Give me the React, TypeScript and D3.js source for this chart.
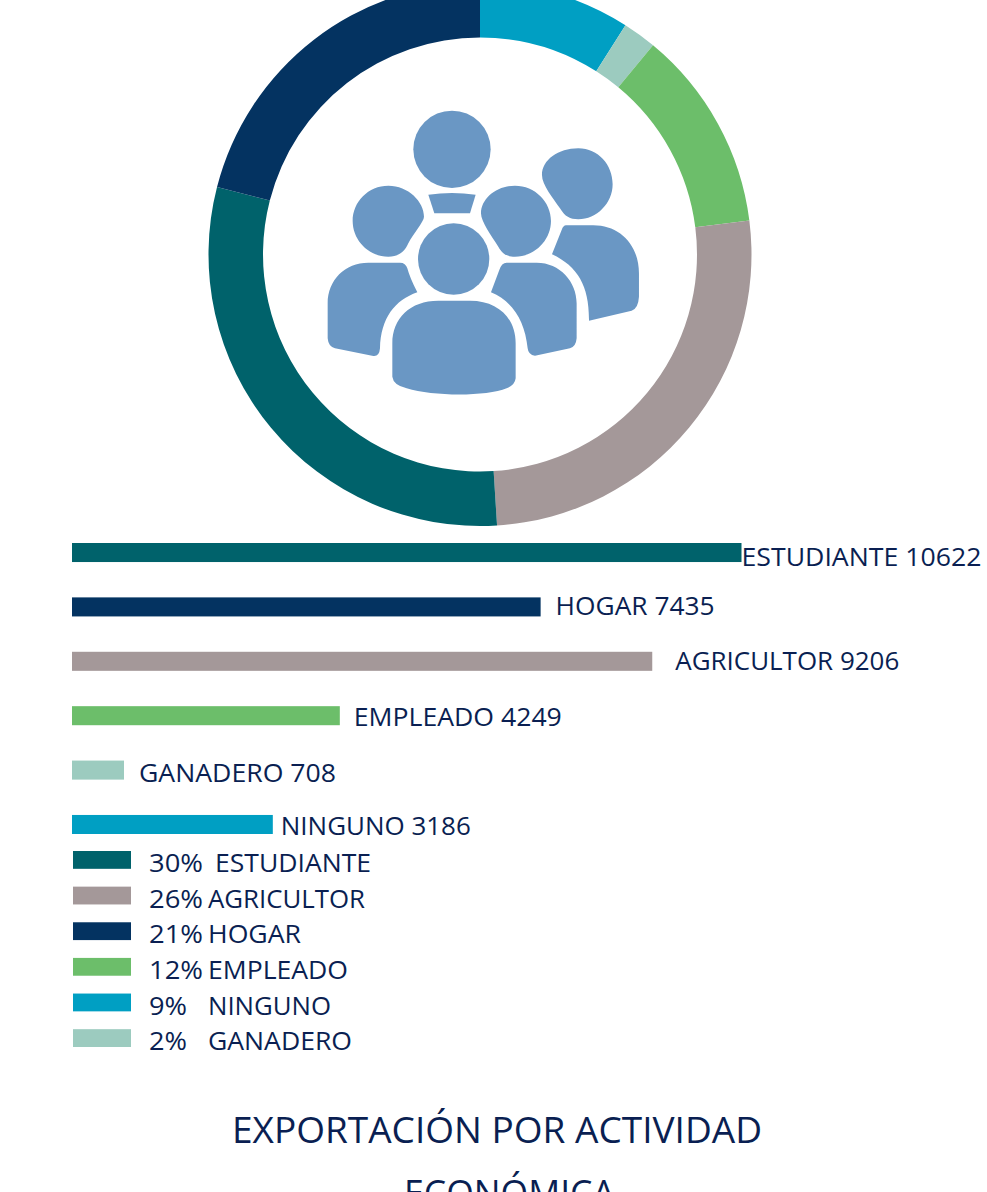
import React from "react";
import * as d3 from "d3";

const sliceNames = ["NINGUNO", "GANADERO", "EMPLEADO", "AGRICULTOR", "ESTUDIANTE", "HOGAR"];
const sliceValues = [3186, 708, 4249, 9206, 10622, 7435];

const barNames = ["ESTUDIANTE", "HOGAR", "AGRICULTOR", "EMPLEADO", "GANADERO", "NINGUNO"];
const barLabels = [10622, 7435, 9206, 4249, 708, 3186];
// Bar lengths as drawn in the picture (the GANADERO bar is drawn longer than its label)
const barDrawn = [10622, 7435, 9206, 4249, 825, 3186];

const legendNames = ["ESTUDIANTE", "AGRICULTOR", "HOGAR", "EMPLEADO", "NINGUNO", "GANADERO"];
const legendPercents = ["30%", "26%", "21%", "12%", "9%", "2%"];

const titleLines = ["EXPORTACIÓN POR ACTIVIDAD", "ECONÓMICA"];

const colorOf: Record<string, string> = {
  ESTUDIANTE: "#00626b",
  AGRICULTOR: "#a49899",
  HOGAR: "#043361",
  EMPLEADO: "#6cbe6a",
  NINGUNO: "#009fc3",
  GANADERO: "#9ccbbf",
};

const INK = "#0a1f52";
const FONT = "'Open Sans', sans-serif";

// per-row label layout
const labelGap = [0, 15, 23, 14, 15, 8];
const labelDy = [23, 18, 18, 20, 21, 20];
const labelWidth = [240, 159, 224, 208, 197, 190];
const legendNameX = [215, 208, 208, 208, 208, 208];
const legendNameW = [156, 157, 93, 140, 123, 144];
const legendPctW = [54, 54, 54, 54, 38, 38];

const iconPaths = [
  "M355,284 Q426,274 497,284 L480,340 L373,340 Z",
  "M235,257 C295,257 342,305 342,350 C342,365 310,400 295,430 C285,455 265,470 235,470 C175,470 128,420 128,363 C128,305 175,257 235,257Z",
  "M615,257 C675,257 723,305 723,363 C723,420 675,470 615,470 C590,470 578,462 565,440 C545,410 513,365 513,340 C513,295 560,257 615,257Z",
  "M805,145 C865,145 908,195 908,253 C908,310 860,358 805,358 C780,358 765,350 750,325 C730,295 696,255 696,225 C696,180 745,145 805,145Z",
  "M175,488 L270,488 Q287,488 292,505 Q300,535 322,577 C255,600 212,655 210,745 Q208,770 190,768 L75,745 Q55,740 53,715 L53,610 C53,540 105,488 175,488Z",
  "M590,488 L680,488 C750,488 800,545 800,610 L800,715 Q798,740 780,745 L675,767 Q655,765 653,745 C645,665 610,605 543,577 L568,510 Q575,488 590,488Z",
  "M768,376 L850,376 C930,376 987,435 987,520 L987,590 Q985,625 965,632 L837,662 C838,560 805,500 726,463 L755,390 Q760,376 768,376Z",
  "M385,602 L480,602 C565,602 617,655 617,730 L617,835 Q615,855 590,865 C530,890 370,890 290,865 Q250,855 247,830 L247,730 C247,655 300,602 385,602Z",
];

export default function App() {
  const pie = d3.pie<number>().sort(null)(sliceValues);
  const arc = d3.arc<d3.PieArcDatum<number>>().innerRadius(217).outerRadius(271.5);

  const x = d3.scaleLinear().domain([0, 10622]).range([72, 741.5]);
  const barY = d3.scaleBand<number>().domain(d3.range(6)).range([543, 834]).paddingInner(0.65).paddingOuter(0);
  const legY = d3.scaleBand<number>().domain(d3.range(6)).range([851, 1047]).paddingInner(0.5).paddingOuter(0);

  return (
    <svg width={987} height={1192} viewBox="0 0 987 1192" style={{ position: "absolute", left: 0, top: 0, display: "block" }} fontFamily={FONT}>
      <rect width={987} height={1192} fill="#ffffff" />
      <g transform="translate(480,254.5)">
        {pie.map((d, i) => (
          <path key={i} d={arc(d) || ""} fill={colorOf[sliceNames[i]]} />
        ))}
      </g>
      <g transform="translate(310,100) scale(0.3333)" fill="#6a97c4">
        <circle cx={426} cy={148} r={116} />
        <circle cx={431} cy={477} r={107} />
        {iconPaths.map((p, i) => (
          <path key={i} d={p} />
        ))}
      </g>
      {barNames.map((n, i) => (
        <g key={n}>
          <rect x={x(0)} y={barY(i)} width={x(barDrawn[i]) - x(0)} height={barY.bandwidth()} fill={colorOf[n]} />
          <text
            x={x(barDrawn[i]) + labelGap[i]}
            y={(barY(i) as number) + labelDy[i]}
            fontSize={26}
            fill={INK}
            textLength={labelWidth[i]}
            lengthAdjust="spacingAndGlyphs"
          >
            {n} {barLabels[i]}
          </text>
        </g>
      ))}
      {legendNames.map((n, i) => {
        const y = legY(i) as number;
        return (
          <g key={n}>
            <rect x={73} y={y} width={58} height={legY.bandwidth()} fill={colorOf[n]} />
            <text x={149} y={y + 21} fontSize={26} fill={INK} textLength={legendPctW[i]} lengthAdjust="spacingAndGlyphs">
              {legendPercents[i]}
            </text>
            <text x={legendNameX[i]} y={y + 21} fontSize={26} fill={INK} textLength={legendNameW[i]} lengthAdjust="spacingAndGlyphs">
              {n}
            </text>
          </g>
        );
      })}
      <text x={232} y={1143} fontSize={37} fill={INK} textLength={530} lengthAdjust="spacingAndGlyphs">
        {titleLines[0]}
      </text>
      <text x={404} y={1206} fontSize={37} fill={INK} textLength={211} lengthAdjust="spacingAndGlyphs">
        {titleLines[1]}
      </text>
    </svg>
  );
}
